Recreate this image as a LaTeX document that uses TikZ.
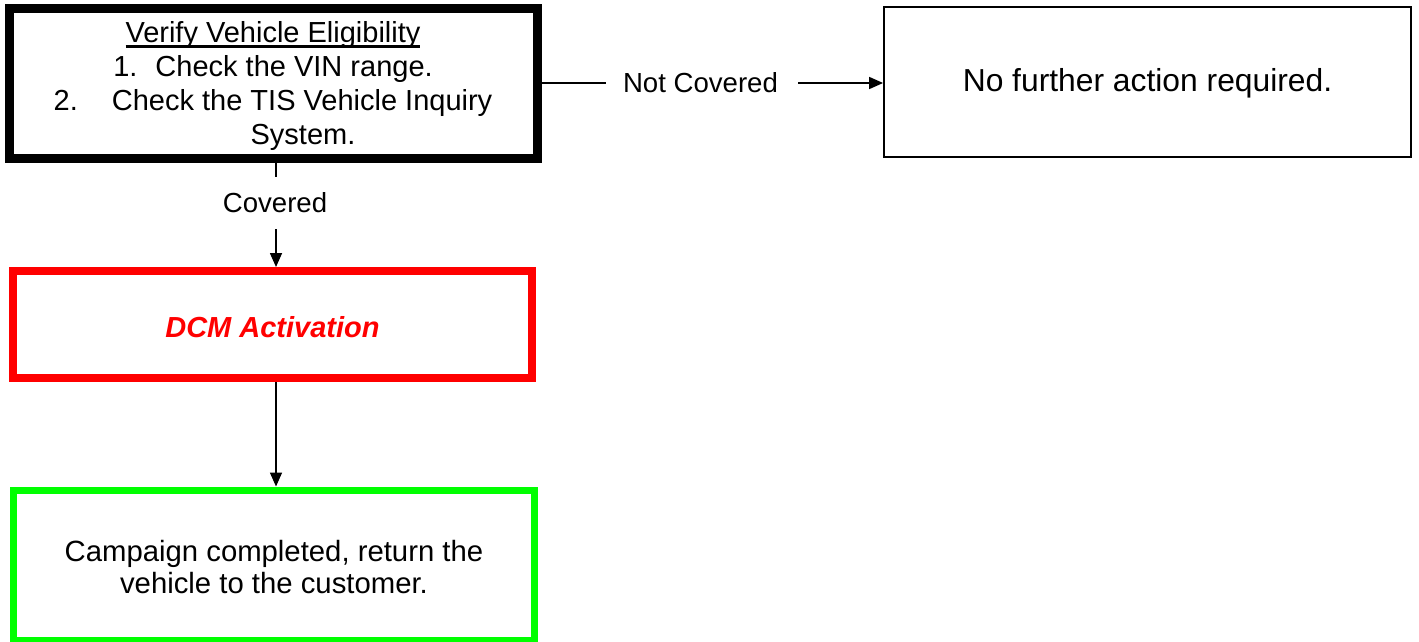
\documentclass[tikz,border=0pt]{standalone}
\usepackage{fontspec}
\setmainfont{Liberation Sans}
\usetikzlibrary{arrows.meta}
\definecolor{boxred}{RGB}{255,0,0}
\definecolor{boxgreen}{RGB}{0,255,0}
\newcommand\myuline[1]{\setbox0\hbox{#1}\rlap{\rule[-5pt]{\wd0}{2.5pt}}\box0}
\begin{document}
\begin{tikzpicture}[x=1pt,y=-1pt,
  stepbox/.style={draw,rectangle,inner sep=0pt,align=center},
  arr/.style={-{Triangle[length=14pt,width=12pt]},line width=1.6pt},
  conn/.style={line width=1.6pt},
  lbl/.style={font=\fontsize{27.6}{33}\selectfont,inner sep=0pt}]
\useasboundingbox (0,0) rectangle (1419,642);
\fill[white] (0,0) rectangle (1419,642);

\node[stepbox, line width=9pt, minimum width=528pt, minimum height=149.5pt,
  font=\fontsize{29}{34}\selectfont] (verify) at (273,83.25)
  {\rule{0pt}{27pt}\myuline{Verify Vehicle Eligibility}\\1.\hspace{18pt}Check the VIN range.\\2.\hspace{34pt}Check the TIS Vehicle Inquiry\\\hspace*{60pt}System.};

\node[stepbox, line width=1.8pt, minimum width=527pt, minimum height=150pt,
  font=\fontsize{31.8}{36}\selectfont] (none) at (1147.5,82) {\rule{0pt}{26pt}No further action required.};

\node[stepbox, draw=boxred, line width=8pt, minimum width=519pt, minimum height=107pt,
  text=boxred, font=\fontsize{29}{33}\selectfont\bfseries\itshape] (dcm) at (272.5,324.5)
  {\rule{0pt}{27pt}DCM Activation};

\node[stepbox, draw=boxgreen, line width=7pt, minimum width=521pt, minimum height=150pt,
  font=\fontsize{29.3}{32.5}\selectfont] (done) at (274,565)
  {\rule{0pt}{25pt}Campaign completed, return the\\vehicle to the customer.};

\node[lbl] (notcov) at (700.5,83) {Not Covered};
\node[lbl] (cov) at (275,203) {Covered};

\coordinate (spine) at (276,0);
\coordinate (ncA) at (606,83);
\coordinate (ncB) at (798,83);
\coordinate (cA) at (276,177);
\coordinate (cB) at (276,229);

\draw[conn] (verify.east |- ncA) -- (ncA);
\draw[arr] (ncB) -- (none.west |- ncB);
\draw[conn] (verify.south -| spine) -- (cA);
\draw[arr] (cB) -- (dcm.north -| spine);
\draw[arr] (dcm.south -| spine) -- (done.north -| spine);
\end{tikzpicture}
\end{document}
